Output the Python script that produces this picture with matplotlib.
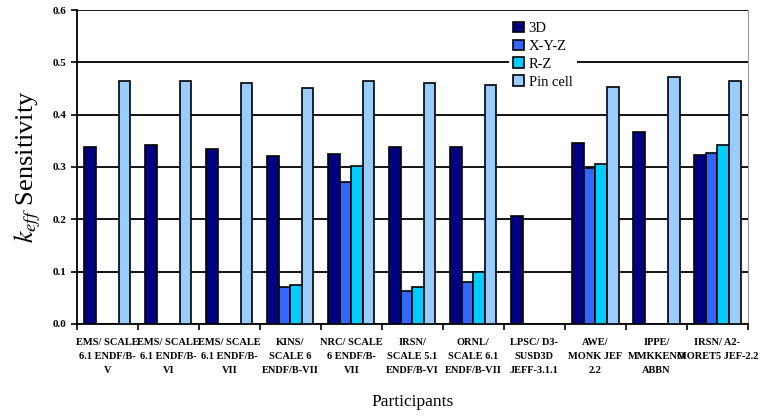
import matplotlib
matplotlib.use("Agg")
import matplotlib.pyplot as plt
import numpy as np

plt.rcParams['font.family'] = ['Liberation Serif', 'DejaVu Serif']
plt.rcParams['mathtext.fontset'] = 'stix'

# participants (code / library)
participants = [
    "EMS/ SCALE\n6.1 ENDF/B-\nV",
    "EMS/ SCALE\n6.1 ENDF/B-\nVI",
    "EMS/ SCALE\n6.1 ENDF/B-\nVII",
    "KINS/\nSCALE 6\nENDF/B-VII",
    "NRC/ SCALE\n6 ENDF/B-\nVII",
    "IRSN/\nSCALE 5.1\nENDF/B-VI",
    "ORNL/\nSCALE 6.1\nENDF/B-VII",
    "LPSC/ D3-\nSUSD3D\nJEFF-3.1.1",
    "AWE/\nMONK JEF\n2.2",
    "IPPE/\nMMKKENO\nABBN",
    "IRSN/ A2-\nMORET5 JEF-2.2",
]

# keff sensitivity per model, nan = no result
sens_3d = [0.338, 0.342, 0.335, 0.321, 0.325, 0.338, 0.338, 0.207, 0.346, 0.367, 0.323]
sens_xyz = [np.nan, np.nan, np.nan, 0.071, 0.272, 0.063, 0.080, np.nan, 0.298, np.nan, 0.326]
sens_rz = [np.nan, np.nan, np.nan, 0.075, 0.302, 0.070, 0.100, np.nan, 0.306, np.nan, 0.342]
sens_pin = [0.465, 0.465, 0.461, 0.451, 0.465, 0.461, 0.457, np.nan, 0.452, 0.472, 0.465]

series = [("3D", sens_3d, "#000080"),
          ("X-Y-Z", sens_xyz, "#3366ff"),
          ("R-Z", sens_rz, "#00ccff"),
          ("Pin cell", sens_pin, "#99ccff")]

fig = plt.figure(figsize=(7.6, 4.19), dpi=100)
ax = fig.add_axes([0.101, 0.227, 0.883, 0.749])

x = np.arange(len(participants))
w = 0.19
for i, (name, vals, col) in enumerate(series):
    ax.bar(x + (i - 1.5) * w, vals, w, color=col, edgecolor="black",
           linewidth=1.2, label=name, zorder=3)

ax.set_xlim(-0.5, len(participants) - 0.5)
ax.set_ylim(0, 0.6)
ax.set_yticks(np.arange(0, 0.61, 0.1))
ax.set_yticklabels(["%.1f" % v for v in np.arange(0, 0.61, 0.1)],
                   fontsize=8, fontweight="bold")
ax.yaxis.grid(True, color="black", linewidth=1.3, zorder=0)
ax.tick_params(axis="y", length=4, width=1.2, direction="out")

ax.set_xticks(x)
ax.set_xticklabels(participants, fontsize=7.5, fontweight="bold", linespacing=1.75)
ax.tick_params(axis="x", which="major", length=0, pad=10)
ax.set_xticks(np.arange(-0.5, len(participants), 1.0), minor=True)
ax.tick_params(axis="x", which="minor", length=4, width=1.2, direction="out")

for s in ["left", "bottom"]:
    ax.spines[s].set_linewidth(1.3)
ax.spines["top"].set_visible(False)
ax.spines["right"].set_color("#999999")

ax.set_ylabel("$k_{eff}$ Sensitivity", fontsize=19)
ax.yaxis.set_label_coords(-0.05, 0.5)
ax.set_xlabel("Participants", fontsize=12.5)
ax.xaxis.set_label_coords(0.5, -0.222)

leg = ax.legend(loc="upper left", bbox_to_anchor=(0.633, 1.0), fontsize=10.5,
                frameon=True, fancybox=False, framealpha=1, edgecolor="none",
                handlelength=0.75, handleheight=0.75, handletextpad=0.3,
                labelspacing=0.3, borderpad=0.3)
leg.set_zorder(5)

fig.savefig("out.png", dpi=100, facecolor="white")
